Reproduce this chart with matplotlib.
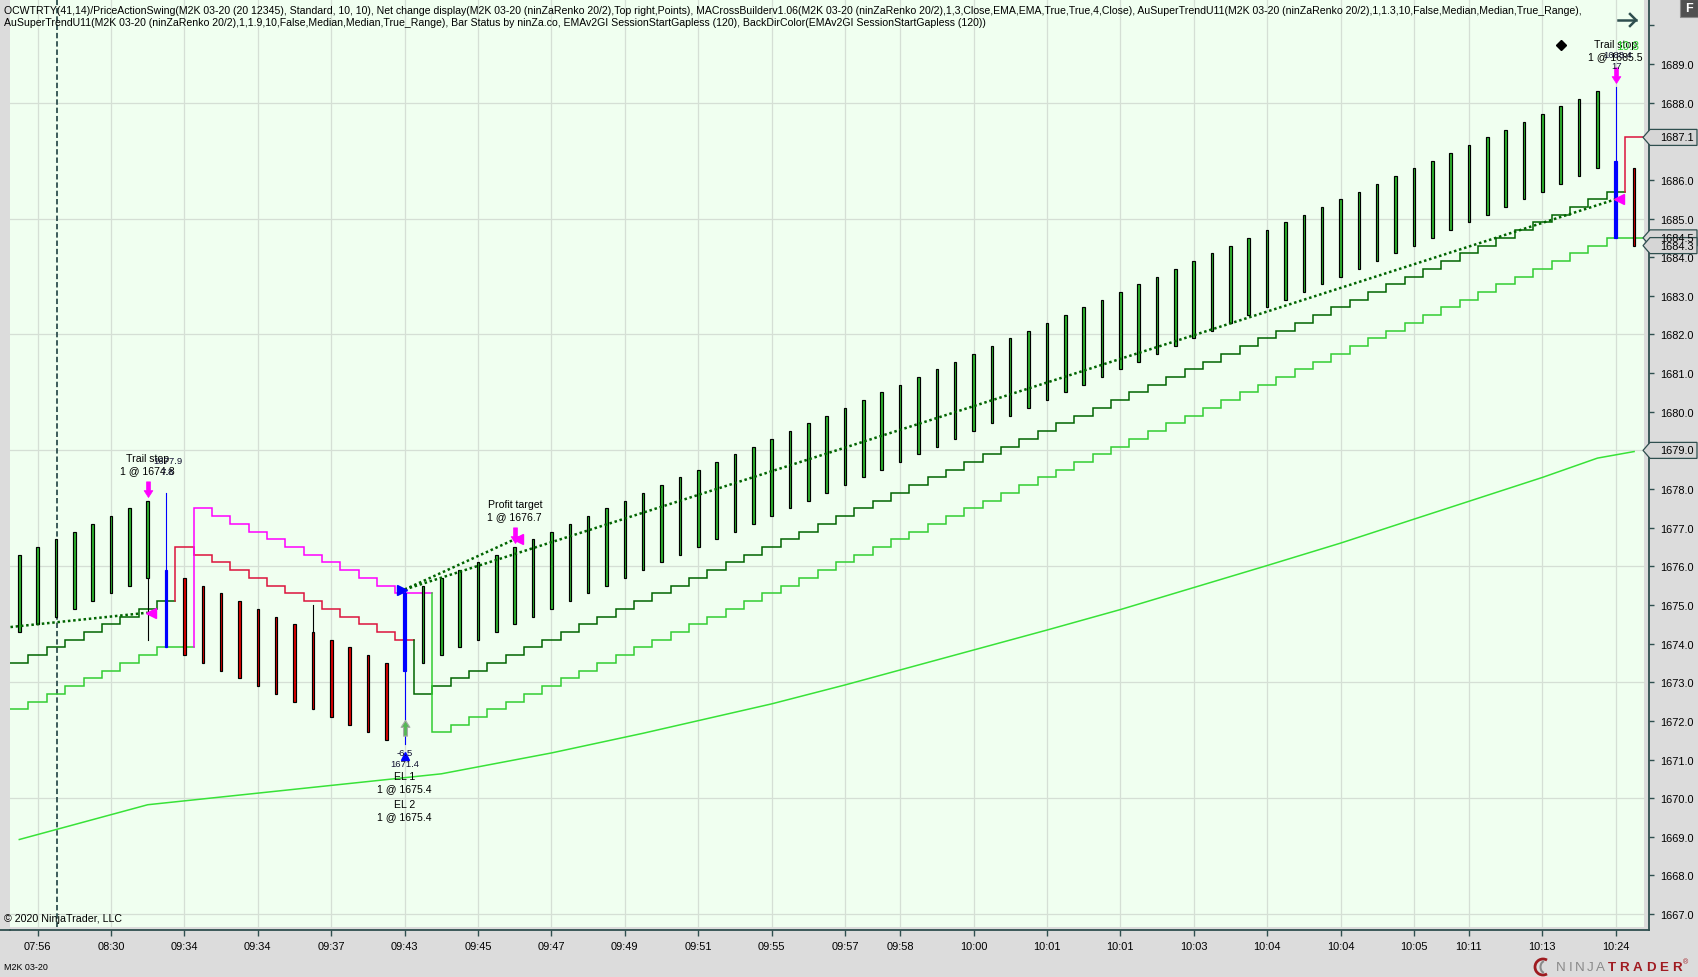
import matplotlib
matplotlib.use("Agg")
import matplotlib.pyplot as plt
import matplotlib.transforms as mtransforms
from matplotlib import font_manager
from matplotlib.patches import Rectangle, Polygon, Arc
from matplotlib.path import Path
from matplotlib.lines import Line2D

plt.rcParams['font.family'] = ['Liberation Sans', 'DejaVu Sans']
installed = {f.name for f in font_manager.fontManager.ttflist}
NARROW = ['Liberation Sans Narrow', 'Liberation Sans'] if 'Liberation Sans Narrow' in installed else ['Liberation Sans']
TICK_SIZE = 8.6 if 'Liberation Sans Narrow' in installed else 7.9

W, H, DPI = 1698, 978, 100

# ---------------- data ----------------
time_ticks = [1, 5, 9, 13, 17, 21, 25, 29, 33, 37, 41, 45, 48, 52, 56, 60, 64, 68, 72, 76, 79, 83, 87]
time_labels = ['07:56', '08:30', '09:34', '09:34', '09:37', '09:43', '09:45', '09:47', '09:49', '09:51',
               '09:55', '09:57', '09:58', '10:00', '10:01', '10:01', '10:03', '10:04', '10:04', '10:05',
               '10:11', '10:13', '10:24']
price_ticks = [1667, 1668, 1669, 1670, 1671, 1672, 1673, 1674, 1675, 1676, 1677, 1678,
               1679, 1680, 1681, 1682, 1683, 1684, 1685, 1686, 1687, 1688, 1689, 1690]
grid_prices = [1667, 1670, 1673, 1676, 1679, 1682, 1685, 1688]

# renko bars (ninZaRenko 20/2)
opens = [1674.3, 1674.5, 1674.7, 1674.9, 1675.1, 1675.3, 1675.5, 1675.7,
         1675.9,
         1675.7, 1675.5, 1675.3, 1675.1, 1674.9, 1674.7, 1674.5, 1674.3, 1674.1, 1673.9, 1673.7, 1673.5,
         1673.3,
         1673.5, 1673.7, 1673.9, 1674.1, 1674.3, 1674.5, 1674.7, 1674.9, 1675.1, 1675.3,
         1675.5, 1675.7, 1675.9, 1676.1, 1676.3, 1676.5, 1676.7, 1676.9, 1677.1, 1677.3,
         1677.5, 1677.7, 1677.9, 1678.1, 1678.3, 1678.5, 1678.7, 1678.9, 1679.1, 1679.3,
         1679.5, 1679.7, 1679.9, 1680.1, 1680.3, 1680.5, 1680.7, 1680.9, 1681.1, 1681.3,
         1681.5, 1681.7, 1681.9, 1682.1, 1682.3, 1682.5, 1682.7, 1682.9, 1683.1, 1683.3,
         1683.5, 1683.7, 1683.9, 1684.1, 1684.3, 1684.5, 1684.7, 1684.9, 1685.1, 1685.3,
         1685.5, 1685.7, 1685.9, 1686.1, 1686.3,
         1686.5, 1686.3]
closes = [1676.3, 1676.5, 1676.7, 1676.9, 1677.1, 1677.3, 1677.5, 1677.7,
          1673.9,
          1673.7, 1673.5, 1673.3, 1673.1, 1672.9, 1672.7, 1672.5, 1672.3, 1672.1, 1671.9, 1671.7, 1671.5,
          1675.3,
          1675.5, 1675.7, 1675.9, 1676.1, 1676.3, 1676.5, 1676.7, 1676.9, 1677.1, 1677.3,
          1677.5, 1677.7, 1677.9, 1678.1, 1678.3, 1678.5, 1678.7, 1678.9, 1679.1, 1679.3,
          1679.5, 1679.7, 1679.9, 1680.1, 1680.3, 1680.5, 1680.7, 1680.9, 1681.1, 1681.3,
          1681.5, 1681.7, 1681.9, 1682.1, 1682.3, 1682.5, 1682.7, 1682.9, 1683.1, 1683.3,
          1683.5, 1683.7, 1683.9, 1684.1, 1684.3, 1684.5, 1684.7, 1684.9, 1685.1, 1685.3,
          1685.5, 1685.7, 1685.9, 1686.1, 1686.3, 1686.5, 1686.7, 1686.9, 1687.1, 1687.3,
          1687.5, 1687.7, 1687.9, 1688.1, 1688.3,
          1684.5, 1684.3]
wick_high = {8: 1677.9, 16: 1675.0, 21: 1675.4, 87: 1688.4}
wick_low = {7: 1674.1, 21: 1671.4}
blue_bars = [8, 21, 87]

# AuSuperTrend 1.3 (dark green / crimson) and 1.9 (lime / magenta)
st1 = [1673.5, 1673.7, 1673.9, 1674.1, 1674.3, 1674.5, 1674.7, 1674.9, 1675.1,
       1676.5, 1676.3, 1676.1, 1675.9, 1675.7, 1675.5, 1675.3, 1675.1, 1674.9, 1674.7, 1674.5, 1674.3, 1674.1,
       1672.7, 1672.9, 1673.1, 1673.3, 1673.5, 1673.7, 1673.9, 1674.1, 1674.3, 1674.5,
       1674.7, 1674.9, 1675.1, 1675.3, 1675.5, 1675.7, 1675.9, 1676.1, 1676.3, 1676.5,
       1676.7, 1676.9, 1677.1, 1677.3, 1677.5, 1677.7, 1677.9, 1678.1, 1678.3, 1678.5,
       1678.7, 1678.9, 1679.1, 1679.3, 1679.5, 1679.7, 1679.9, 1680.1, 1680.3, 1680.5,
       1680.7, 1680.9, 1681.1, 1681.3, 1681.5, 1681.7, 1681.9, 1682.1, 1682.3, 1682.5,
       1682.7, 1682.9, 1683.1, 1683.3, 1683.5, 1683.7, 1683.9, 1684.1, 1684.3, 1684.5,
       1684.7, 1684.9, 1685.1, 1685.3, 1685.5, 1685.7,
       1687.1]
st1_runs = [(9, 'up'), (13, 'dn'), (66, 'up'), (1, 'dn')]
st2 = [1672.3, 1672.5, 1672.7, 1672.9, 1673.1, 1673.3, 1673.5, 1673.7, 1673.9, 1673.9,
       1677.5, 1677.3, 1677.1, 1676.9, 1676.7, 1676.5, 1676.3, 1676.1, 1675.9, 1675.7, 1675.5, 1675.3, 1675.3,
       1671.7, 1671.9, 1672.1, 1672.3, 1672.5, 1672.7, 1672.9, 1673.1, 1673.3, 1673.5,
       1673.7, 1673.9, 1674.1, 1674.3, 1674.5, 1674.7, 1674.9, 1675.1, 1675.3, 1675.5,
       1675.7, 1675.9, 1676.1, 1676.3, 1676.5, 1676.7, 1676.9, 1677.1, 1677.3, 1677.5,
       1677.7, 1677.9, 1678.1, 1678.3, 1678.5, 1678.7, 1678.9, 1679.1, 1679.3, 1679.5,
       1679.7, 1679.9, 1680.1, 1680.3, 1680.5, 1680.7, 1680.9, 1681.1, 1681.3, 1681.5,
       1681.7, 1681.9, 1682.1, 1682.3, 1682.5, 1682.7, 1682.9, 1683.1, 1683.3, 1683.5,
       1683.7, 1683.9, 1684.1, 1684.3, 1684.5, 1684.5]
st2_runs = [(10, 'up'), (13, 'dn'), (66, 'up')]

# EMA (120) sampled along the curve
ema_bars = [0, 7, 23, 29, 34, 41, 45, 56, 60, 68, 72, 76, 83, 86, 88]
ema_vals = [1668.93, 1669.83, 1670.63, 1671.17, 1671.68, 1672.44, 1672.93, 1674.35,
            1674.88, 1676.02, 1676.6, 1677.22, 1678.3, 1678.8, 1678.97]

session_break = 2

# strategy trades
entry_bar, entry_price = 21, 1675.4
exits = [(7, 1674.8, 'Trail stop'), (27, 1676.7, 'Profit target'), (87, 1685.5, 'Trail stop')]
trade_lines = [((-1.05, 1674.4), (7, 1674.8)),
               ((21, 1675.4), (27, 1676.7)),
               ((21, 1675.4), (87, 1685.5))]
entry_labels = ['EL 1', '1 @ 1675.4', 'EL 2', '1 @ 1675.4']

# swing labels (PriceActionSwing)
swing_highs = [(8, '1677.9', '7.8'), (87, '1688.4', '17')]
swing_low = (21, '1671.4', '-6.5')
net_change = '10.8'
status_diamond = (84, 1689.5)

box_vals = [1687.1, 1684.5, 1684.3, 1679.0]

header = ['OCWTRTY(41,14)/PriceActionSwing(M2K 03-20 (20 12345), Standard, 10, 10), Net change display(M2K 03-20 '
          '(ninZaRenko 20/2),Top right,Points), MACrossBuilderv1.06(M2K 03-20 (ninZaRenko 20/2),1,3,Close,EMA,EMA,'
          'True,True,4,Close), AuSuperTrendU11(M2K 03-20 (ninZaRenko 20/2),1,1.3,10,False,Median,Median,True_Range),',
          'AuSuperTrendU11(M2K 03-20 (ninZaRenko 20/2),1,1.9,10,False,Median,Median,True_Range), Bar Status by '
          'ninZa.co, EMAv2GI SessionStartGapless (120), BackDirColor(EMAv2GI SessionStartGapless (120))']

# ---------------- colours ----------------
BG = '#dcdcdc'
PANEL = '#f0fff0'
GRID = '#d5dfd5'
AXC = '#2f4f4f'
UP_FILL = '#2eb52e'
DN_FILL = '#e00000'
ST_COL = {'st1': {'up': '#006400', 'dn': '#dc143c'}, 'st2': {'up': '#32cd32', 'dn': '#ff00ff'}}

# ---------------- figure ----------------
fig = plt.figure(figsize=(W / DPI, H / DPI), dpi=DPI, facecolor=BG)
ax = fig.add_axes([10 / W, (H - 931) / H, 1639 / W, 931 / H])
ax.set_facecolor(BG)
bar0_px, bar_px = 19.3, 18.35
ax.set_xlim((10 - bar0_px) / bar_px, (1649 - bar0_px) / bar_px)
ax.set_ylim(1666.588, 1690.682)
panel_w = 1634 / 1639
panel_b = 3 / 931
ax.add_patch(Rectangle((0, panel_b), panel_w, 1 - panel_b, transform=ax.transAxes,
                       fc=PANEL, ec='none', zorder=0))

# figure pixel coords, y from the top
fpx = mtransforms.Affine2D().scale(1 / W, -1 / H).translate(0, 1) + fig.transFigure
px_price = mtransforms.blended_transform_factory(fpx, ax.transData)


def shift(dy_px):
    return ax.transData + mtransforms.ScaledTranslation(0, dy_px / DPI, fig.dpi_scale_trans)


# grid
for t in time_ticks:
    ax.axvline(t, ymin=panel_b, color=GRID, lw=0.9, zorder=1)
for p in grid_prices:
    ax.axhline(p, xmax=panel_w, color=GRID, lw=0.9, zorder=1)
ax.axvline(session_break + 0.05, ymin=panel_b, color=AXC, lw=1.3, ls=(0, (3, 1.6)), zorder=2)

# EMA
ax.plot(ema_bars, ema_vals, color='#38e238', lw=1.1, zorder=3)


# supertrend step lines
def draw_steps(vals, runs, cols):
    start = 0
    for length, d in runs:
        xs, ys = [], []
        for i in range(start, start + length):
            if i > 0:
                xs.append(i - 0.5)
                ys.append(vals[i - 1])
            xs += [i - 0.5, i + 0.5]
            ys += [vals[i], vals[i]]
        ax.plot(xs, ys, color=cols[d], lw=1.1, zorder=4, solid_joinstyle='miter')
        start += length


draw_steps(st1, st1_runs, ST_COL['st1'])
draw_steps(st2, st2_runs, ST_COL['st2'])

# bars
bw = 0.14
highs, lows = [], []
for i, (o, c) in enumerate(zip(opens, closes)):
    lo, hi = min(o, c), max(o, c)
    hw, lw_ = wick_high.get(i, hi), wick_low.get(i, lo)
    highs.append(hw)
    lows.append(lw_)
    if i in blue_bars:
        fc = ec = wc = '#0000ff'
    elif c > o:
        fc, ec, wc = UP_FILL, 'black', 'black'
    else:
        fc, ec, wc = DN_FILL, 'black', 'black'
    if hw > hi or lw_ < lo:
        ax.plot([i, i], [lw_, hw], color=wc, lw=0.8, zorder=5)
    ax.add_patch(Rectangle((i - bw / 2, lo), bw, hi - lo, fc=fc, ec=ec, lw=0.85, zorder=6))

# trade connector lines
for (x0, y0), (x1, y1) in trade_lines:
    ax.plot([x0, x1], [y0, y1], color='#006400', lw=1.8, ls=(0, (1, 1.1)), zorder=7)

# markers
arrow_dn = Path([(0, 0), (-4.5, 7), (-2, 7), (-2, 16), (2, 16), (2, 7), (4.5, 7), (0, 0)],
                [Path.MOVETO] + [Path.LINETO] * 6 + [Path.CLOSEPOLY])
arrow_up = Path([(x, -y) for x, y in arrow_dn.vertices], arrow_dn.codes)

for b, price, name in exits:
    ax.plot(b, highs[b], marker=arrow_dn, ms=22.5, color='#ff00ff', mec='#ff00ff', mew=0.5,
            transform=shift(4), zorder=9)
    ax.plot(b + 0.15, price, marker='<', ms=6.5, color='#ff00ff', mec='#ff00ff', zorder=9)
    ax.annotate('1 @ %.1f' % price, (b, highs[b]), xytext=(0, 31 * 0.72), textcoords='offset points',
                ha='center', va='center', fontsize=7.6, zorder=10)
    ax.annotate(name, (b, highs[b]), xytext=(0, 43 * 0.72), textcoords='offset points',
                ha='center', va='center', fontsize=7.6, zorder=10)

ax.plot(entry_bar - 0.15, entry_price, marker='>', ms=6.5, color='#0000ff', zorder=9)
ax.plot(entry_bar, lows[entry_bar], marker=arrow_up, ms=22.5, color='#55b855', mec='#a8a8a8', mew=0.8,
        transform=shift(24), zorder=9)
ax.plot(entry_bar, lows[entry_bar], marker='^', ms=6, color='#0000ff', transform=shift(-12), zorder=9)
for k, txt in enumerate(entry_labels):
    dy = [31.6, 43.9, 59.9, 71.6][k]
    ax.annotate(txt, (entry_bar, lows[entry_bar]), xytext=(0, -dy * 0.72), textcoords='offset points',
                ha='center', va='center', fontsize=7.6, zorder=10)

for b, ptxt, stxt in swing_highs:
    ax.annotate(ptxt, (b, highs[b]), xytext=(2 * 0.72, 32.5 * 0.72), textcoords='offset points',
                ha='center', va='center', fontsize=6.8, color='#101030', zorder=10)
    ax.annotate(stxt, (b, highs[b]), xytext=(1 * 0.72, 21.5 * 0.72), textcoords='offset points',
                ha='center', va='center', fontsize=6.8, color='#101030', zorder=10)
b, ptxt, stxt = swing_low
ax.annotate(stxt, (b, lows[b]), xytext=(0, -8.2 * 0.72), textcoords='offset points',
            ha='center', va='center', fontsize=6.8, color='#101030', zorder=10)
ax.annotate(ptxt, (b, lows[b]), xytext=(0, -19.2 * 0.72), textcoords='offset points',
            ha='center', va='center', fontsize=6.8, color='#101030', zorder=10)

ax.plot(*status_diamond, marker='D', ms=5.5, color='black', zorder=9)
ax.text(1628, 47, net_change, transform=fpx, ha='center', va='center', fontsize=8.5,
        color='#32cd32', zorder=10)

# axes styling
for side in ['left', 'top']:
    ax.spines[side].set_visible(False)
for side in ['right', 'bottom']:
    ax.spines[side].set_color(AXC)
    ax.spines[side].set_linewidth(1.3)
ax.yaxis.tick_right()
ax.set_yticks(price_ticks, ['%.1f' % p if p < 1690 else '' for p in price_ticks])
ax.set_xticks(time_ticks, time_labels)
ax.tick_params(axis='y', length=3.6, width=1, color=AXC, pad=4.3, labelsize=TICK_SIZE)
ax.tick_params(axis='x', length=4.3, width=1, color=AXC, pad=3.3, labelsize=TICK_SIZE)
for lab in ax.get_xticklabels() + ax.get_yticklabels():
    lab.set_family(NARROW)
fig.add_artist(Line2D([0, 10], [931, 931], transform=fpx, color=AXC, lw=1.3))

# price markers on the right axis
hh = 8 / 38.64
for v in box_vals:
    poly = Polygon([(1643, v), (1650, v + hh), (1697, v + hh), (1697, v - hh), (1650, v - hh)],
                   closed=True, transform=px_price, fc='#d6d6d6', ec=AXC, lw=0.9, clip_on=False, zorder=20)
    ax.add_patch(poly)
    ax.text(1660, v, '%.1f' % v, transform=px_price, ha='left', va='center', fontsize=TICK_SIZE,
            family=NARROW, clip_on=False, zorder=21)

# header text, fitted to the width of the reference
renderer = fig.canvas.get_renderer()
h1 = fig.text(4, 14, header[0], transform=fpx, fontsize=7.5, family=NARROW, va='baseline', zorder=30)
scale = 1570 / h1.get_window_extent(renderer).width
h1.set_fontsize(7.5 * scale)
fig.text(4, 26, header[1], transform=fpx, fontsize=7.5 * scale, family=NARROW, va='baseline', zorder=30)

fig.text(4, 918.5, '\u00a9 2020 NinjaTrader, LLC', transform=fpx, fontsize=7.7, va='center')
fig.text(4, 968, 'M2K 03-20', transform=fpx, fontsize=6.4, va='center')

# top right arrow and F button
fig.add_artist(Line2D([1618, 1636], [21, 21], transform=fpx, color=AXC, lw=1.8))
fig.add_artist(Line2D([1630, 1636, 1630], [15, 21, 27], transform=fpx, color=AXC, lw=1.8))
fig.add_artist(Rectangle((1680, 0), 18, 18, transform=fpx, fc='#505050', ec='#8a8a8a', lw=0.8))
fig.text(1689, 9, 'F', transform=fpx, ha='center', va='center', fontsize=9, color='white', weight='bold')

# ninjatrader logo, letter spaced
fig.add_artist(Arc((1543, 968), 16, 16, theta1=60, theta2=300, transform=fpx, color='#9e1b20', lw=2))
fig.add_artist(Arc((1545, 968), 9, 12, theta1=100, theta2=260, transform=fpx, color='#8a8a8a', lw=1.5))
x = 1556
for word, col, wt, gap in [('NINJA', '#8a8a8a', 'normal', 2.6), ('TRADER', '#a01c22', 'bold', 3.6)]:
    for ch in word:
        t = fig.text(x, 968, ch, transform=fpx, fontsize=9.6, va='center', color=col, weight=wt)
        x += t.get_window_extent(renderer).width + gap
fig.text(x - 2, 963, '\u00ae', transform=fpx, fontsize=5, va='center', color='#a01c22')

fig.savefig('out.png', dpi=DPI, facecolor=fig.get_facecolor())
